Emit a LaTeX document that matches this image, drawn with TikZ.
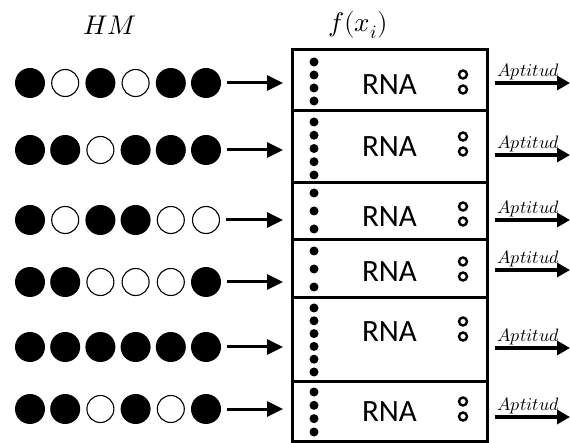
\documentclass[tikz,border=0pt]{standalone}
\usepackage{fontspec}
\usepackage{unicode-math}
\setmathfont{Latin Modern Math}
\newfontfamily\rnafont{Carlito}
\usetikzlibrary{arrows.meta}
\begin{document}
\begin{tikzpicture}[x=1pt,y=-1pt,
  full/.style={circle,fill=black,minimum size=30pt,inner sep=0pt},
  hollow/.style={circle,draw=black,line width=1.1pt,minimum size=27pt,inner sep=0pt},
  rowbox/.style={draw=black,line width=3pt,minimum width=195pt,inner sep=0pt,outer sep=0pt},
  neuron/.style={circle,fill=black,minimum size=9pt,inner sep=0pt},
  outneuron/.style={circle,draw=black,line width=2.4pt,minimum size=8pt,inner sep=0pt},
  rnalabel/.style={font=\rnafont\fontsize{31}{31}\selectfont,inner sep=0pt},
  inarrow/.style={line width=3pt,-{Triangle[length=16pt,width=15pt]},shorten <=6pt,shorten >=9pt},
  outarrow/.style={line width=3.5pt,-{Triangle[length=13pt,width=14pt]},shorten <=8pt},
  fitlabel/.style={font=\fontsize{18}{18}\selectfont,inner sep=1.5pt,anchor=south},
  header/.style={font=\fontsize{27}{27}\selectfont,inner sep=0pt}
]
\useasboundingbox (0,0) rectangle (570,443);

% column headers
\node[header] (hm) at (110,25) {$HM$};
\node[header] (fx) at (358,25) {$f(x_i)$};

% one row per harmony vector:
% index / box top / box bottom / vector y / pattern / dots / first dot / last dot / RNA y / output y
\foreach \n/\t/\b/\cy/\pat/\nd/\fd/\ld/\ry/\ay in {
  1/50/111/83/{1,0,1,0,1,1}/4/62/101/85/83,
  2/111/183/150/{1,1,0,1,1,1}/5/122/175/147/155,
  3/183/240/220/{1,0,1,1,0,0}/3/193/229/217/220,
  4/240/298/282/{1,1,0,0,0,1}/3/251/287/272/270,
  5/298/381/347/{1,1,1,1,1,1}/6/308/372/332/348,
  6/381/441/409/{1,1,0,1,0,1}/4/392/432/412/417}{
  % network box
  \pgfmathsetmacro\bh{\b-\t}
  \pgfmathsetmacro\bc{(\b+\t)/2}
  \node[rowbox,minimum height=\bh pt] (r\n) at (389.5,\bc) {};
  \node[rnalabel] (rna\n) at (389.5,\ry) {RNA};
  % input neurons
  \pgfmathsetmacro\ds{(\ld-\fd)/(\nd-1)}
  \foreach \k in {1,...,\nd}{
    \pgfmathsetmacro\dy{\fd+(\k-1)*\ds}
    \node[neuron] (d\n-\k) at (314,\dy) {};
  }
  % output neurons
  \pgfmathsetmacro\oy{(\ry-3)}
  \node[outneuron] (o\n-a) at (463,\oy-7.5) {};
  \node[outneuron] (o\n-b) at (463,\oy+7.5) {};
  % harmony vector
  \foreach \v [count=\k] in \pat{
    \pgfmathsetmacro\cx{30+35.2*(\k-1)}
    \ifnum\v=1
      \node[full] (c\n-\k) at (\cx,\cy) {};
    \else
      \node[hollow] (c\n-\k) at (\cx,\cy) {};
    \fi
  }
  \draw[inarrow] (c\n-6.east) -- (c\n-6.east -| r\n.west);
  % fitness output
  \coordinate (out\n) at (570,\ay);
  \draw[outarrow] (out\n -| r\n.east) -- node[fitlabel] (apt\n) {$Aptitud$} (out\n);
}
\end{tikzpicture}
\end{document}
